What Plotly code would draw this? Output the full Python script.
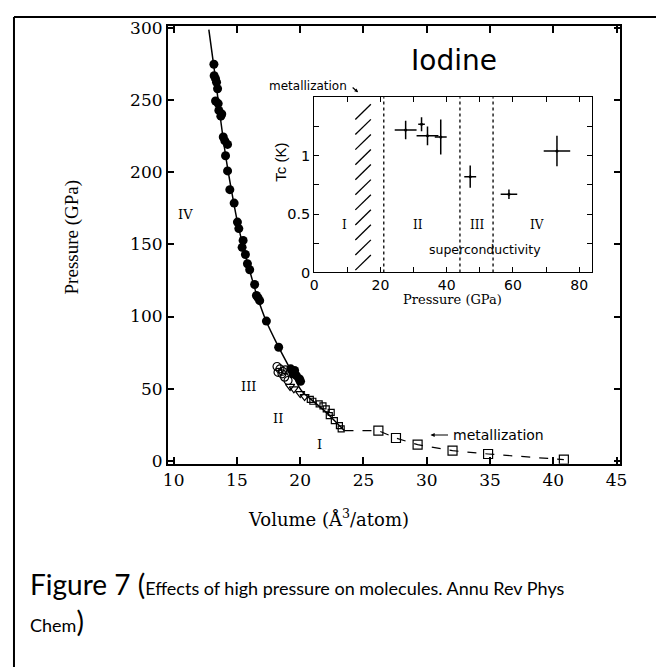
import plotly.graph_objects as go

FW, FH = 664, 667
# measured mapping of the page capture: screen = A * css + B
AX, BX = 0.985, 10.8
AY, BY = 0.975, 15.8

# ---------------- main panel data (Volume Å^3/atom, Pressure GPa) ----------------
filled_v = [13.18, 13.20, 13.31, 13.39, 13.47, 13.31, 13.52, 13.57, 13.73, 13.80,
            13.92, 14.05, 14.26, 14.10, 14.26, 14.44, 14.78, 15.04, 15.15, 15.49,
            15.41, 15.67, 15.83, 16.01, 16.40, 16.54, 16.67, 16.80, 17.33, 18.30,
            19.25, 19.56, 19.43, 19.70, 19.95, 20.03]
filled_p = [275.0, 267.0, 265.0, 262.5, 258.0, 249.5, 247.7, 243.0, 239.0, 240.5,
            224.5, 221.8, 219.4, 211.5, 201.0, 188.0, 178.7, 165.5, 161.0, 152.8,
            148.0, 143.0, 136.6, 132.4, 122.2, 114.6, 113.0, 111.0, 96.8, 78.7,
            63.7, 62.5, 60.2, 59.0, 56.7, 55.0]

opencirc_v = [18.17, 18.40, 18.25, 18.56, 18.77, 19.04, 18.83, 18.60]
opencirc_p = [65.3, 63.6, 61.3, 60.2, 57.9, 55.6, 63.0, 62.0]

tri_v = [19.20, 19.50, 20.00, 20.35]
tri_p = [51.5, 49.8, 46.5, 44.4]

opensq_v = [20.8, 21.0, 21.5, 21.8, 22.06, 22.45, 22.3, 22.7, 23.1, 23.24]
opensq_p = [42.5, 41.2, 39.4, 38.0, 35.9, 33.5, 31.2, 27.8, 24.3, 22.0]

dashsq_v = [26.18, 27.57, 29.28, 32.04, 34.85, 40.84]
dashsq_p = [20.8, 15.7, 11.1, 6.9, 4.6, 0.7]

curve_v = [12.78, 13.2, 13.6, 14.1, 14.6, 15.1, 15.6, 16.1, 16.6, 17.3, 18.3,
           19.2, 20.1, 21.0, 22.0, 22.8, 23.5]
curve_p = [299, 272, 244, 212, 186, 163, 145, 129, 114, 97, 78.7,
           63.7, 48.6, 41.5, 34.0, 27.0, 20.8]

dash_v = [23.5, 26.18, 27.57, 29.28, 32.04, 34.85, 40.84]
dash_p = [20.8, 20.8, 15.7, 11.1, 6.9, 4.6, 0.7]

main_xticks = [10, 15, 20, 25, 30, 35, 40, 45]
main_yticks = [0, 50, 100, 150, 200, 250, 300]

# ---------------- inset data (Pressure GPa, Tc K) ----------------
tc_pressure = [27.6, 32.4, 34.2, 38.2, 47.1, 58.8, 73.3]
tc_value = [1.22, 1.27, 1.17, 1.16, 0.82, 0.67, 1.04]
tc_pressure_err = [3.3, 1.0, 3.3, 1.8, 1.8, 2.5, 4.0]
tc_value_err = [0.08, 0.06, 0.08, 0.15, 0.095, 0.04, 0.13]
phase_boundaries = [21, 44, 54]
hatch_band = [12.4, 17.1]      # metallization band, GPa
hatch_bottom = 0.02
hatch_rise = 0.13
hatch_count = 11
hatch_step = 0.129

inset_xticks = [0, 10, 20, 30, 40, 50, 60, 70, 80]
inset_xtext = ["0", "", "20", "", "40", "", "60", "", "80"]
inset_yticks = [0, 0.25, 0.5, 0.75, 1.0, 1.25]
inset_ytext = ["0", "", "0.5", "", "1", ""]

SERIF = "DejaVu Serif"
SANS = "DejaVu Sans"


def X(t):
    """target screen pixel x -> paper fraction"""
    return ((t - BX) / AX) / FW


def Y(t):
    """target screen pixel y -> paper fraction"""
    return 1 - ((t - BY) / AY) / FH


fig = go.Figure()

fig.add_trace(go.Scatter(x=curve_v, y=curve_p, mode="lines",
                         line=dict(color="black", width=1.5, shape="spline"),
                         xaxis="x", yaxis="y", hoverinfo="skip"))
fig.add_trace(go.Scatter(x=dash_v, y=dash_p, mode="lines",
                         line=dict(color="black", width=1.2, dash="dash"),
                         xaxis="x", yaxis="y", hoverinfo="skip"))
fig.add_trace(go.Scatter(x=filled_v, y=filled_p, mode="markers",
                         marker=dict(symbol="circle", size=9, color="black"),
                         xaxis="x", yaxis="y"))
fig.add_trace(go.Scatter(x=opencirc_v, y=opencirc_p, mode="markers",
                         marker=dict(symbol="circle-open", size=8, color="black",
                                     line=dict(width=1.2)),
                         xaxis="x", yaxis="y"))
fig.add_trace(go.Scatter(x=tri_v, y=tri_p, mode="markers",
                         marker=dict(symbol="triangle-down-open", size=8, color="black",
                                     line=dict(width=1.2)),
                         xaxis="x", yaxis="y"))
fig.add_trace(go.Scatter(x=opensq_v, y=opensq_p, mode="markers",
                         marker=dict(symbol="square-open", size=6, color="black",
                                     line=dict(width=1.2)),
                         xaxis="x", yaxis="y"))
fig.add_trace(go.Scatter(x=dashsq_v, y=dashsq_p, mode="markers",
                         marker=dict(symbol="square-open", size=9, color="black",
                                     line=dict(width=1.2)),
                         xaxis="x", yaxis="y"))

fig.add_trace(go.Scatter(
    x=tc_pressure, y=tc_value, mode="markers",
    marker=dict(symbol="circle", size=3, color="black"),
    error_x=dict(type="data", array=tc_pressure_err, color="black", thickness=1.5, width=0),
    error_y=dict(type="data", array=tc_value_err, color="black", thickness=1.5, width=0),
    xaxis="x2", yaxis="y2"))

shapes = []
for b in phase_boundaries:
    shapes.append(dict(type="line", xref="x2", yref="y2 domain", x0=b, x1=b, y0=0, y1=1,
                       line=dict(color="black", width=1.3, dash="dot")))
for k in range(hatch_count):
    y0 = hatch_bottom + k * hatch_step
    shapes.append(dict(type="line", xref="x2", yref="y2", x0=hatch_band[0], x1=hatch_band[1],
                       y0=y0, y1=y0 + hatch_rise, line=dict(color="black", width=1.3)))
# outer frame (partially cropped box)
fx, fy = 1.0 / FW, 1 - 1.0 / FH
shapes.append(dict(type="line", xref="paper", yref="paper", x0=fx, x1=1.02,
                   y0=fy, y1=fy, line=dict(color="black", width=2)))
shapes.append(dict(type="line", xref="paper", yref="paper", x0=fx, x1=fx,
                   y0=fy, y1=-0.02, line=dict(color="black", width=2)))

annotations = []


def txt(text, x, y, size, family, xref="x", yref="y", **kw):
    d = dict(text=text, x=x, y=y, xref=xref, yref=yref, showarrow=False,
             xanchor="center", yanchor="middle",
             font=dict(size=size, family=family, color="black"))
    d.update(kw)
    annotations.append(d)


# main region labels
txt("IV", 10.9, 171, 13, SERIF)
txt("III", 15.9, 51.4, 13, SERIF)
txt("II", 18.25, 29, 13, SERIF)
txt("I", 21.5, 11, 13, SERIF)
annotations.append(dict(x=30.3, y=17.8, xref="x", yref="y", ax=19, ay=0, text="",
                        showarrow=True, arrowhead=2, arrowsize=0.7, arrowwidth=1.2,
                        arrowcolor="black"))
txt("metallization", 31.9, 17.8, 14, SANS, xanchor="left")

# inset labels
txt("I", 9, 0.41, 12, SERIF, xref="x2", yref="y2")
txt("II", 31.4, 0.41, 12, SERIF, xref="x2", yref="y2")
txt("III", 49.2, 0.41, 12, SERIF, xref="x2", yref="y2")
txt("IV", 67.4, 0.41, 12, SERIF, xref="x2", yref="y2")
txt("superconductivity", 51.6, 0.195, 12.5, SANS, xref="x2", yref="y2")
txt("Iodine", X(453), Y(60), 28, SANS, xref="paper", yref="paper")
txt("metallization", X(307), Y(86), 12, SANS, xref="paper", yref="paper")
annotations.append(dict(x=X(357), y=Y(92), xref="paper", yref="paper", ax=-7, ay=-6,
                        text="", showarrow=True, arrowhead=2, arrowsize=0.6,
                        arrowwidth=1.2, arrowcolor="black"))

# axis titles
txt("Pressure (GPa)", X(70), Y(237), 19, "Liberation Serif", xref="paper", yref="paper",
    textangle=-90)
txt("Volume (Å<sup>3</sup>/atom)", X(327), Y(517), 18, SERIF, xref="paper", yref="paper")
txt("Pressure (GPa)", X(452), Y(299), 13, SERIF, xref="paper", yref="paper")
txt("Tc (K)", X(279), Y(162), 15, "Liberation Sans", xref="paper", yref="paper",
    textangle=-90)

# caption
txt("Figure 7 (<span style='font-size:18px'>Effects of high pressure on molecules. Annu Rev Phys</span>",
    X(26), Y(583), 28, "Lato", xref="paper", yref="paper", xanchor="left")
txt("<span style='font-size:18px'>Chem</span>)",
    X(26), Y(620), 28, "Lato", xref="paper", yref="paper", xanchor="left")

axis_common = dict(showgrid=False, zeroline=False, showline=True, linecolor="black",
                   ticks="inside", mirror="ticks", tickcolor="black")

fig.update_layout(
    width=FW, height=FH, margin=dict(l=0, r=0, t=0, b=0),
    paper_bgcolor="white", plot_bgcolor="white", showlegend=False,
    xaxis=dict(domain=[X(166), X(620)], range=[9.53, 45.3], tickvals=main_xticks,
               ticklen=7, linewidth=1.5, tickwidth=1.5,
               tickfont=dict(family=SERIF, size=17, color="black"), anchor="y",
               **axis_common),
    yaxis=dict(domain=[Y(463), Y(26)], range=[-2.1, 301.4], tickvals=main_yticks,
               ticklen=7, linewidth=1.5, tickwidth=1.5,
               tickfont=dict(family=SERIF, size=17, color="black"), anchor="x",
               **axis_common),
    xaxis2=dict(domain=[X(313), X(592)], range=[0, 84], tickvals=inset_xticks,
                ticktext=inset_xtext, ticklen=5, linewidth=1.2, tickwidth=1.2,
                tickfont=dict(family=SANS, size=14, color="black"), anchor="y2",
                **axis_common),
    yaxis2=dict(domain=[Y(272), Y(97)], range=[0, 1.5], tickvals=inset_yticks,
                ticktext=inset_ytext, ticklen=5, linewidth=1.2, tickwidth=1.2,
                tickfont=dict(family=SANS, size=14.5, color="black"), anchor="x2",
                **axis_common),
    shapes=shapes, annotations=annotations,
)

fig.write_html("out.html")
